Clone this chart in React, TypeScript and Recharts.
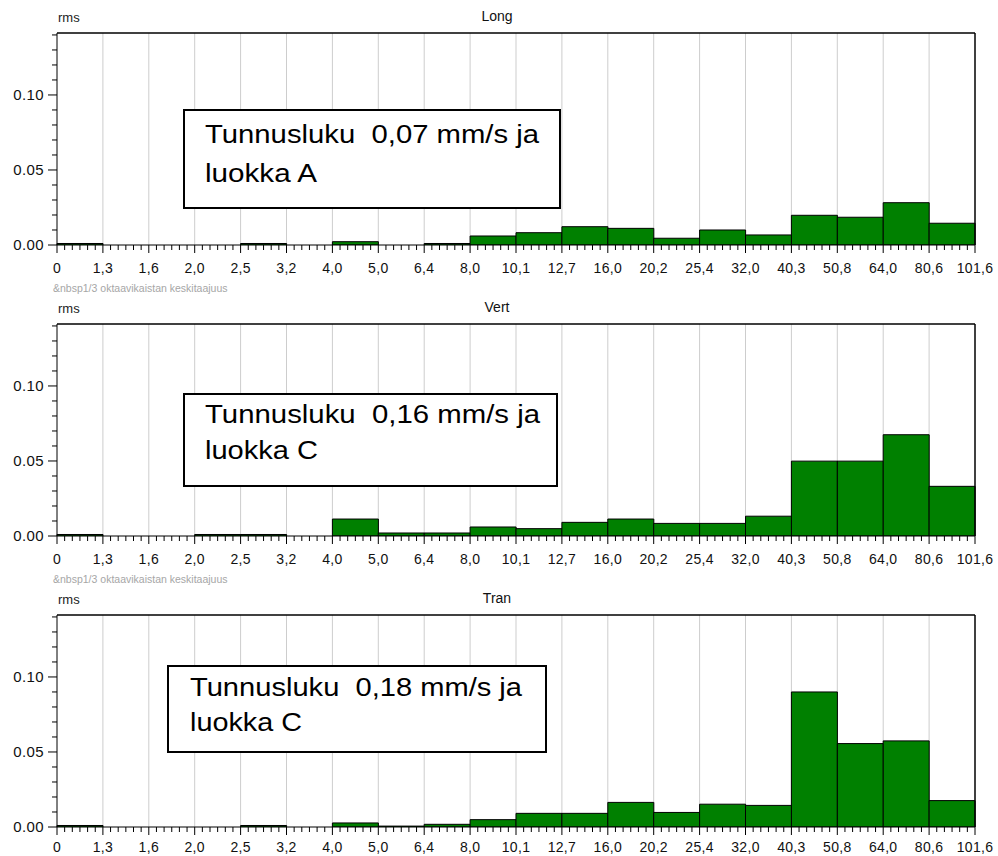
import React from 'react';
import { BarChart, Bar, XAxis, YAxis, CartesianGrid, ReferenceLine } from 'recharts';

// 1/3 octave band edge labels (Hz)
const bandEdges = ['0', '1,3', '1,6', '2,0', '2,5', '3,2', '4,0', '5,0', '6,4', '8,0', '10,1', '12,7', '16,0', '20,2', '25,4', '32,0', '40,3', '50,8', '64,0', '80,6', '101,6'];

// rms values per band (mm/s)
const longValues = [0.001, 0, 0, 0, 0.001, 0, 0.0022, 0, 0.001, 0.006, 0.0082, 0.0122, 0.0111, 0.0045, 0.010, 0.0067, 0.0198, 0.0185, 0.0282, 0.0145];
const vertValues = [0.001, 0, 0, 0.001, 0.001, 0, 0.0113, 0.002, 0.002, 0.006, 0.0049, 0.0091, 0.0113, 0.0084, 0.0084, 0.0132, 0.0499, 0.0499, 0.0675, 0.0331];
const tranValues = [0.001, 0, 0, 0, 0.001, 0, 0.0027, 0.0006, 0.0018, 0.0049, 0.0091, 0.0091, 0.0164, 0.0097, 0.0152, 0.0144, 0.090, 0.0556, 0.0574, 0.0176];

const panelTitles = ['Long', 'Vert', 'Tran'];
const noteLine1 = ['Tunnusluku  0,07 mm/s ja', 'Tunnusluku  0,16 mm/s ja', 'Tunnusluku  0,18 mm/s ja'];
const noteLine2 = ['luokka A', 'luokka C', 'luokka C'];

const yTickValues = [0, 0.01, 0.02, 0.03, 0.04, 0.05, 0.06, 0.07, 0.08, 0.09, 0.10, 0.11, 0.12, 0.13, 0.14];
const Y_MAX = 0.1413;
const N = bandEdges.length - 1;

const xTicks: number[] = [];
for (let i = 0; i < N; i++) {
  for (let k = 0; k < 6; k++) xTicks.push(i + k / 6);
}
xTicks.push(N);

const FONT = '"Liberation Sans", Arial, sans-serif';

const XTick = (props: any) => {
  const { x, y, payload, labelOffset } = props;
  const v = payload.value as number;
  const major = Math.abs(v - Math.round(v)) < 1e-6;
  if (!major) {
    return <line x1={x} x2={x} y1={y} y2={y + 5} stroke="#000" strokeWidth={1} />;
  }
  const label = bandEdges[Math.round(v)];
  return (
    <g>
      <line x1={x} x2={x} y1={y} y2={y + 8} stroke="#000" strokeWidth={1} />
      <text x={x} y={y + labelOffset} textAnchor="middle" fontFamily={FONT} fontSize={14} fill="#111" letterSpacing={0.3}>
        {label}
      </text>
    </g>
  );
};

const YTick = (props: any) => {
  const { x, y, payload } = props;
  const v = payload.value as number;
  const hundredths = Math.round(v * 100);
  const major = hundredths % 5 === 0 && hundredths <= 10;
  if (!major) {
    return <line x1={x - 5} x2={x} y1={y} y2={y} stroke="#000" strokeWidth={1} />;
  }
  return (
    <g>
      <line x1={x - 9} x2={x} y1={y} y2={y} stroke="#000" strokeWidth={1} />
      <text x={x - 13} y={y + 5} textAnchor="end" fontFamily={FONT} fontSize={15} fill="#111" letterSpacing={0.4}>
        {v.toFixed(2)}
      </text>
    </g>
  );
};

function Panel({ top, values, labelOffset }: { top: number; values: number[]; labelOffset: number }) {
  const data = values.map((v, i) => ({ mid: i + 0.5, v }));
  return (
    <div style={{ position: 'absolute', left: 0, top, width: 998, height: 291 }}>
      <BarChart
        width={998}
        height={291}
        data={data}
        margin={{ top: 33, right: 23, bottom: 16, left: 0 }}
        barCategoryGap={0}
        barGap={0}
      >
        <CartesianGrid
          horizontal={false}
          vertical
          stroke="#cdcdcd"
          verticalCoordinatesGenerator={({ offset, width }: any) => {
            const w = offset.width ?? width - offset.left - offset.right;
            const pts: number[] = [];
            for (let i = 1; i < N; i++) pts.push(offset.left + (w * i) / N);
            return pts;
          }}
        />
        <XAxis
          type="number"
          dataKey="mid"
          domain={[0, N]}
          ticks={xTicks}
          interval={0}
          tick={<XTick labelOffset={labelOffset} />}
          tickLine={false}
          tickSize={0}
          tickMargin={0}
          axisLine={{ stroke: '#000' }}
          height={30}
        />
        <YAxis
          type="number"
          domain={[0, Y_MAX]}
          ticks={yTickValues}
          interval={0}
          tick={<YTick />}
          tickLine={false}
          tickSize={0}
          tickMargin={0}
          axisLine={{ stroke: '#000' }}
          width={57}
          allowDataOverflow
        />
        <Bar dataKey="v" fill="#008000" stroke="#000" strokeWidth={1} isAnimationActive={false} />
        <ReferenceLine y={Y_MAX} stroke="#000" strokeWidth={1.5} />
        <ReferenceLine x={N} stroke="#000" strokeWidth={1.5} />
      </BarChart>
    </div>
  );
}

const boxes = [
  { x: 184, y: 110, w: 376, h: 98, tx: 205, b1: 143, b2: 182, l1: 334, l2: 112 },
  { x: 184, y: 394, w: 373, h: 92, tx: 205, b1: 423, b2: 459, l1: 335, l2: 113 },
  { x: 168, y: 666, w: 378, h: 86, tx: 190, b1: 696, b2: 731, l1: 332, l2: 112 },
];

export default function App() {
  const allValues = [longValues, vertValues, tranValues];
  return (
    <div style={{ position: 'absolute', left: 0, top: 0, width: 998, height: 856, overflow: 'hidden', background: '#fff' }}>
      {allValues.map((vals, i) => (
        <Panel key={i} top={i * 291} values={vals} labelOffset={i < 2 ? 28 : 25} />
      ))}
      <svg width={998} height={856} style={{ position: 'absolute', left: 0, top: 0, pointerEvents: 'none' }}>
        {panelTitles.map((t, i) => (
          <g key={t}>
            <text x={497} y={i * 291 + 21} textAnchor="middle" fontFamily={FONT} fontSize={14} fill="#111">
              {t}
            </text>
            <text x={58} y={i * 291 + 22} fontFamily={FONT} fontSize={13} fill="#222">
              rms
            </text>
            {i < 2 && (
              <text x={53} y={i * 291 + 292} fontFamily={FONT} fontSize={10.5} fill="#a6a6a6">
                {'&nbsp1/3 oktaavikaistan keskitaajuus'}
              </text>
            )}
          </g>
        ))}
        {boxes.map((b, i) => (
          <g key={i}>
            <rect x={b.x} y={b.y} width={b.w} height={b.h} fill="#fff" stroke="#000" strokeWidth={2} />
            <text x={b.tx} y={b.b1} fontFamily={FONT} fontSize={26} fill="#000" textLength={b.l1} lengthAdjust="spacingAndGlyphs" style={{ whiteSpace: 'pre' }}>
              {noteLine1[i]}
            </text>
            <text x={b.tx} y={b.b2} fontFamily={FONT} fontSize={26} fill="#000" textLength={b.l2} lengthAdjust="spacingAndGlyphs">
              {noteLine2[i]}
            </text>
          </g>
        ))}
      </svg>
    </div>
  );
}
